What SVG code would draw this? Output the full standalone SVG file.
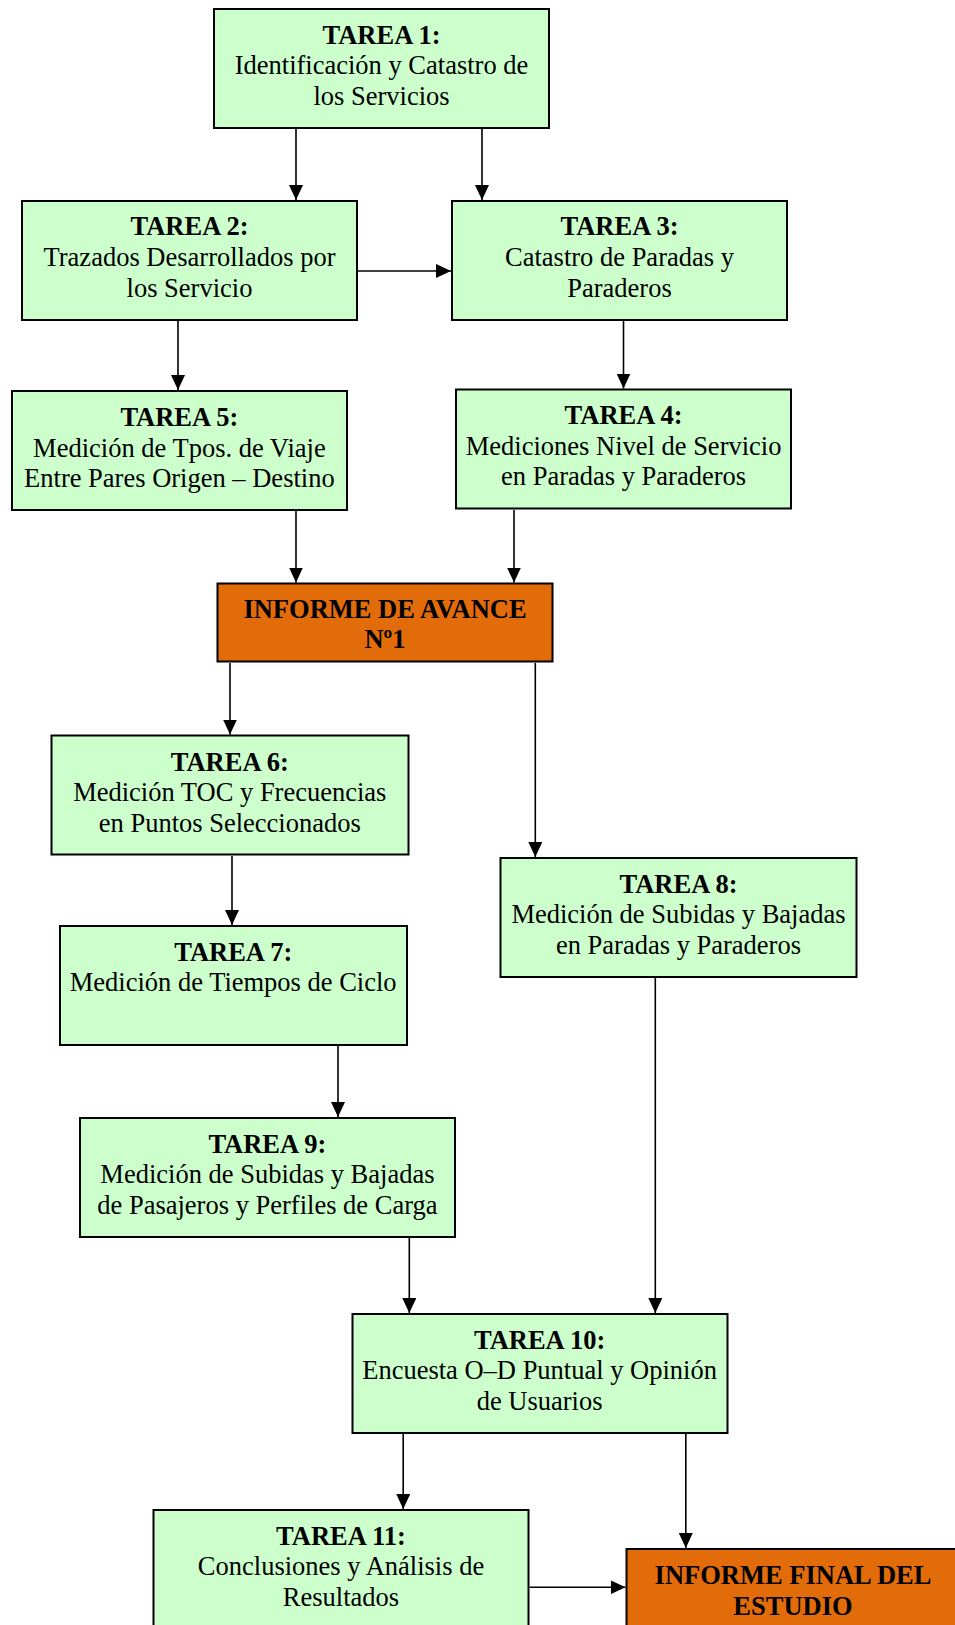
<svg xmlns="http://www.w3.org/2000/svg" width="955" height="1625" viewBox="0 0 955 1625">
<style>
.g{fill:#CCFFCC;stroke:#000;stroke-width:2}
.o{fill:#E36C0A;stroke:#000;stroke-width:2}
text{font-family:"Liberation Serif","Times New Roman",serif;font-size:26.5px;fill:#000;text-anchor:middle}
.b{font-weight:bold}
.c{stroke:#000;stroke-width:1.6;fill:none;marker-end:url(#ah)}
</style>
<defs>
<marker id="ah" markerWidth="15" markerHeight="14" refX="15" refY="7" orient="auto" markerUnits="userSpaceOnUse"><path d="M0,0 L15,7 L0,14 Z" fill="#000"/></marker>
</defs>
<rect width="955" height="1625" fill="#fff"/>
<g id="connectors">
<line class="c" x1="296" y1="129" x2="296" y2="200"/>
<line class="c" x1="482" y1="129" x2="482" y2="200"/>
<line class="c" x1="358" y1="271" x2="451" y2="271"/>
<line class="c" x1="178" y1="321" x2="178" y2="390"/>
<line class="c" x1="623.5" y1="321" x2="623.5" y2="388.5"/>
<line class="c" x1="296" y1="511" x2="296" y2="582.5"/>
<line class="c" x1="514" y1="510" x2="514" y2="582.5"/>
<line class="c" x1="230" y1="663" x2="230" y2="734.5"/>
<line class="c" x1="535.3" y1="663" x2="535.3" y2="857"/>
<line class="c" x1="232" y1="856" x2="232" y2="925"/>
<line class="c" x1="338" y1="1046" x2="338" y2="1117"/>
<line class="c" x1="409.3" y1="1238" x2="409.3" y2="1313"/>
<line class="c" x1="655.3" y1="978" x2="655.3" y2="1313"/>
<line class="c" x1="403.2" y1="1434" x2="403.2" y2="1509"/>
<line class="c" x1="685.8" y1="1434" x2="685.8" y2="1548"/>
<line class="c" x1="529.5" y1="1587.3" x2="625.5" y2="1587.3"/>
</g>
<g id="t1"><rect class="g" x="214" y="9" width="335" height="119"/>
<text x="381.5" y="43.5" class="b">TAREA 1:</text><text x="381.5" y="74">Identificación y Catastro de</text><text x="381.5" y="105">los Servicios</text></g>
<g id="t2"><rect class="g" x="22" y="201" width="335" height="119"/>
<text x="189.5" y="235" class="b">TAREA 2:</text><text x="189.5" y="265.7">Trazados Desarrollados por</text><text x="189.5" y="296.5">los Servicio</text></g>
<g id="t3"><rect class="g" x="452" y="201" width="335" height="119"/>
<text x="619.5" y="235" class="b">TAREA 3:</text><text x="619.5" y="265.7">Catastro de Paradas y</text><text x="619.5" y="296.5">Paraderos</text></g>
<g id="t5"><rect class="g" x="12" y="391" width="335" height="119"/>
<text x="179.4" y="426" class="b">TAREA 5:</text><text x="179.4" y="456.5">Medición de Tpos. de Viaje</text><text x="179.4" y="487">Entre Pares Origen – Destino</text></g>
<g id="t4"><rect class="g" x="456" y="389.5" width="335" height="119"/>
<text x="623.6" y="424" class="b">TAREA 4:</text><text x="623.6" y="454.5">Mediciones Nivel de Servicio</text><text x="623.6" y="485">en Paradas y Paraderos</text></g>
<g id="informe1"><rect class="o" x="217.5" y="583.5" width="335" height="78"/>
<text x="385" y="617.5" class="b">INFORME DE AVANCE</text><text x="385" y="648" class="b">Nº1</text></g>
<g id="t6"><rect class="g" x="51.5" y="735.5" width="357" height="119"/>
<text x="229.8" y="770.5" class="b">TAREA 6:</text><text x="229.8" y="801">Medición TOC y Frecuencias</text><text x="229.8" y="831.5">en Puntos Seleccionados</text></g>
<g id="t8"><rect class="g" x="500.5" y="858" width="356" height="119"/>
<text x="678.5" y="892.5" class="b">TAREA 8:</text><text x="678.5" y="923">Medición de Subidas y Bajadas</text><text x="678.5" y="953.5">en Paradas y Paraderos</text></g>
<g id="t7"><rect class="g" x="60" y="926" width="347" height="119"/>
<text x="233.2" y="960.7" class="b">TAREA 7:</text><text x="233.2" y="991">Medición de Tiempos de Ciclo</text></g>
<g id="t9"><rect class="g" x="80" y="1118" width="375" height="119"/>
<text x="267.4" y="1152.7" class="b">TAREA 9:</text><text x="267.4" y="1183">Medición de Subidas y Bajadas</text><text x="267.4" y="1213.5">de Pasajeros y Perfiles de Carga</text></g>
<g id="t10"><rect class="g" x="352.5" y="1314" width="375" height="119"/>
<text x="539.6" y="1348.7" class="b">TAREA 10:</text><text x="539.6" y="1379">Encuesta O–D Puntual y Opinión</text><text x="539.6" y="1410">de Usuarios</text></g>
<g id="t11"><rect class="g" x="153.5" y="1510" width="375" height="130"/>
<text x="341" y="1544.5" class="b">TAREA 11:</text><text x="341" y="1575">Conclusiones y Análisis de</text><text x="341" y="1605.5">Resultados</text></g>
<g id="informefinal"><rect class="o" x="626.5" y="1549" width="335" height="100"/>
<text x="793" y="1584" class="b">INFORME FINAL DEL</text><text x="793" y="1615" class="b">ESTUDIO</text></g>
</svg>
